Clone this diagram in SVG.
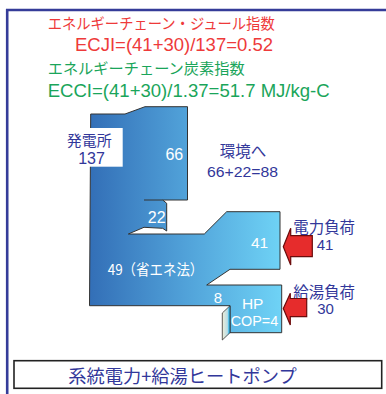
<svg xmlns="http://www.w3.org/2000/svg" width="386" height="394" viewBox="0 0 386 394">
<defs>
<linearGradient id="flow" gradientUnits="userSpaceOnUse" x1="90" y1="0" x2="282" y2="0">
<stop offset="0" stop-color="#336fb7"/>
<stop offset="0.5" stop-color="#51a2d9"/>
<stop offset="1" stop-color="#6fd3f6"/>
</linearGradient>
<linearGradient id="hpin" gradientUnits="userSpaceOnUse" x1="222" y1="0" x2="231" y2="0">
<stop offset="0" stop-color="#f4efd6"/>
<stop offset="0.6" stop-color="#b9dde6"/>
<stop offset="0.8" stop-color="#22b4ec"/>
<stop offset="1" stop-color="#6fd3f6"/>
</linearGradient>
<style>
.jp{font-family:"Noto Sans CJK JP","Noto Sans",sans-serif}
.en{font-family:"Liberation Sans",Arial,sans-serif}
.navy{fill:#32379a}
.wh{fill:#ffffff}
.red{fill:#ee3a3a}
.grn{fill:#1aa55a}
.arrow{fill:#e62c2c;stroke:#6a0c0c;stroke-width:1.2;stroke-linejoin:miter}
.edge{stroke:#333;stroke-width:1;fill:none}
</style>
</defs>
<rect width="386" height="394" fill="#ffffff"/>
<g id="frame">
<path d="M7.2,394 V10 H386" fill="none" stroke="#353c99" stroke-width="2.6"/>
</g>
<g id="titles">
<text class="jp red" x="47.7" y="28.5" font-size="15" textLength="227" lengthAdjust="spacingAndGlyphs">エネルギーチェーン・ジュール指数</text>
<text class="en red" x="75" y="50.7" font-size="18.5" textLength="198" lengthAdjust="spacingAndGlyphs">ECJI=(41+30)/137=0.52</text>
<text class="jp grn" x="47.7" y="73.5" font-size="15" textLength="197" lengthAdjust="spacingAndGlyphs">エネルギーチェーン炭素指数</text>
<text class="en grn" x="47.7" y="97.3" font-size="18.5" textLength="282" lengthAdjust="spacingAndGlyphs">ECCI=(41+30)/1.37=51.7 MJ/kg-C</text>
</g>
<g id="power-plant">
<path d="M90.7,114 L125,114 L145,106.7 L187.5,106.7 L187.5,200 L162.7,200 L166.7,203.3 L166.7,231 L162.7,228.3 L144,227.3 L128.3,234 L204.3,234 L226.7,211.7 L280,211.7 L280,269.3 L230,269.3 L206.7,285 L281.7,285 L281.7,332.7 L230,332.7 L230,305.7 L89.5,305.7 Z" fill="url(#flow)" stroke="#333" stroke-width="1" stroke-linejoin="miter"/>
<path class="edge" d="M144,200 L162.7,200"/>
<rect x="60" y="128" width="62.7" height="38.7" fill="#ffffff"/>
<text class="jp navy" x="89.2" y="145.5" font-size="15" text-anchor="middle">発電所</text>
<text class="en navy" x="91.5" y="163.5" font-size="16" text-anchor="middle">137</text>
<text class="en wh" x="174.3" y="160" font-size="16" text-anchor="middle">66</text>
<text class="en wh" x="156.7" y="223.3" font-size="16" text-anchor="middle">22</text>
<text class="en wh" x="259.5" y="248.3" font-size="15.5" text-anchor="middle">41</text>
<text class="jp wh" x="107.7" y="275" font-size="15" textLength="95.6" lengthAdjust="spacingAndGlyphs">49（省エネ法）</text>
</g>
<g id="heat-pump">
<path d="M230,305.7 L222.3,313 L222.3,340 L230,332.7 Z" fill="url(#hpin)" stroke="#333" stroke-width="0.8"/>
<text class="en wh" x="218" y="302.7" font-size="15" text-anchor="middle">8</text>
<text class="en wh" x="252.7" y="309.3" font-size="15.5" text-anchor="middle">HP</text>
<text class="en wh" x="254.5" y="326" font-size="14.5" text-anchor="middle" textLength="47.6" lengthAdjust="spacingAndGlyphs">COP=4</text>
</g>
<g id="environment">
<text class="jp navy" x="243" y="157" font-size="15.5" text-anchor="middle">環境へ</text>
<text class="en navy" x="242.5" y="176.5" font-size="15.5" text-anchor="middle" textLength="71" lengthAdjust="spacingAndGlyphs">66+22=88</text>
</g>
<g id="electric-load">
<text class="jp navy" x="293.3" y="233" font-size="15.5" textLength="61.7" lengthAdjust="spacingAndGlyphs">電力負荷</text>
<text class="en navy" x="325" y="250" font-size="15" text-anchor="middle">41</text>
</g>
<g id="hot-water-load">
<text class="jp navy" x="293.3" y="297.5" font-size="15.5" textLength="61.7" lengthAdjust="spacingAndGlyphs">給湯負荷</text>
<text class="en navy" x="325.5" y="314" font-size="15" text-anchor="middle">30</text>
</g>
<g id="connectors">
<path class="arrow" d="M283.3,246.7 L290.7,228.3 L290.7,235.7 L312.3,235.7 L312.3,256.7 L290.7,256.7 L290.7,265 Z"/>
<path class="arrow" d="M283.3,308.5 L290.3,293.3 L290.3,298.5 L306.7,298.5 L306.7,316.7 L290.3,316.7 L290.3,325 Z"/>
</g>
<g id="caption">
<rect x="14" y="360.7" width="367.7" height="27.6" fill="none" stroke="#222" stroke-width="1.6"/>
<text class="jp navy" x="68.3" y="382.5" font-size="18" textLength="228.4" lengthAdjust="spacingAndGlyphs">系統電力+給湯ヒートポンプ</text>
</g>
</svg>
